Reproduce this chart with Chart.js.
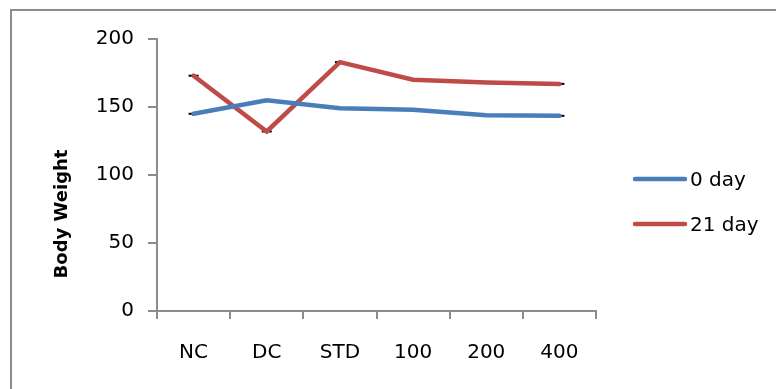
<!DOCTYPE html>
<html>
<head>
<meta charset="utf-8">
<script src="https://cdn.jsdelivr.net/npm/chart.js@4/dist/chart.umd.min.js"></script>
<style>
  html, body { margin: 0; padding: 0; background: #fff; }
  #wrap { position: relative; width: 776px; height: 389px; overflow: hidden; }
  #frame { position: absolute; left: 10px; top: 9px; width: 900px; height: 500px;
           border-left: 2px solid #8c8c8c; border-top: 2px solid #8c8c8c; }
  canvas { position: absolute; left: 0; top: 0; }
</style>
</head>
<body>
<div id="wrap">
  <div id="frame"></div>
  <canvas id="bwChart" width="776" height="389"></canvas>
</div>
<script>
// data
const groups = ['NC', 'DC', 'STD', '100', '200', '400'];
const day0 = [145, 155, 149, 148, 144, 143.5];
const day21 = [173, 132, 183, 170, 168, 167];
const yTicks = [0, 50, 100, 150, 200];

const fontFamily = '"DejaVu Sans", sans-serif';

// small error-bar caps under the lines
const capsPlugin = {
    id: 'caps',
    beforeDatasetsDraw(chart) {
        const ctx = chart.ctx;
        ctx.save();
        ctx.strokeStyle = '#000';
        ctx.lineWidth = 2;
        chart.data.datasets.forEach((ds, i) => {
            chart.getDatasetMeta(i).data.forEach(pt => {
                ctx.beginPath();
                ctx.moveTo(pt.x - 5, pt.y);
                ctx.lineTo(pt.x + 5, pt.y);
                ctx.stroke();
            });
        });
        ctx.restore();
    }
};

// y title + legend, placed like the original
const extrasPlugin = {
    id: 'extras',
    afterDraw(chart) {
        const ctx = chart.ctx;
        const area = chart.chartArea;
        ctx.save();
        ctx.translate(area.left - 95, area.top + 175);
        ctx.rotate(-Math.PI / 2);
        ctx.font = 'bold 18px ' + fontFamily;
        ctx.fillStyle = '#000';
        ctx.textAlign = 'center';
        ctx.textBaseline = 'middle';
        ctx.fillText('Body Weight', 0, 0);
        ctx.restore();

        // legend
        ctx.save();
        ctx.font = '20px ' + fontFamily;
        ctx.textAlign = 'left';
        ctx.textBaseline = 'alphabetic';
        chart.data.datasets.forEach((ds, i) => {
            const x = area.right + 39;
            const y = area.top + 140 + i * 45;
            ctx.strokeStyle = ds.borderColor;
            ctx.lineWidth = 4.5;
            ctx.lineCap = 'round';
            ctx.beginPath();
            ctx.moveTo(x, y);
            ctx.lineTo(x + 50, y);
            ctx.stroke();
            ctx.fillStyle = '#000';
            ctx.fillText(ds.label, x + 55, y + 7);
        });
        ctx.restore();
    }
};

const data = {
    labels: groups,
    datasets: [
        {
            label: '0 day',
            data: day0,
            borderColor: '#4a7ebb',
            backgroundColor: '#4a7ebb',
            borderWidth: 4.5,
            borderCapStyle: 'round',
            pointRadius: 0,
            tension: 0
        },
        {
            label: '21 day',
            data: day21,
            borderColor: '#be4b48',
            backgroundColor: '#be4b48',
            borderWidth: 4.5,
            borderCapStyle: 'round',
            pointRadius: 0,
            tension: 0
        }
    ]
};

const options = {
    responsive: false,
    animation: false,
    layout: { padding: { left: 0, top: 39, right: 180, bottom: 0 } },
    plugins: {
        tooltip: { enabled: false },
        legend: { display: false }
    },
    scales: {
        x: {
            offset: true,
            grid: { drawOnChartArea: false, offset: true, tickLength: 8, color: '#8c8c8c', lineWidth: 2 },
            border: { color: '#8c8c8c', width: 2 },
            ticks: { color: '#000', padding: 22, font: { family: fontFamily, size: 20 } },
            afterFit(scale) { scale.height = 78; }
        },
        y: {
            min: 0,
            max: 200,
            afterBuildTicks(scale) { scale.ticks = yTicks.map(v => ({ value: v })); },
            grid: { drawOnChartArea: false, tickLength: 9, color: '#8c8c8c', lineWidth: 2 },
            border: { color: '#8c8c8c', width: 2 },
            ticks: { color: '#000', padding: 14, font: { family: fontFamily, size: 20 } },
            afterFit(scale) { scale.width = 157; }
        }
    }
};

const ctx = document.getElementById('bwChart').getContext('2d');
const bwChart = new Chart(ctx, {
    type: 'line',
    data: data,
    options: options,
    plugins: [capsPlugin, extrasPlugin]
});
</script>
</body>
</html>
